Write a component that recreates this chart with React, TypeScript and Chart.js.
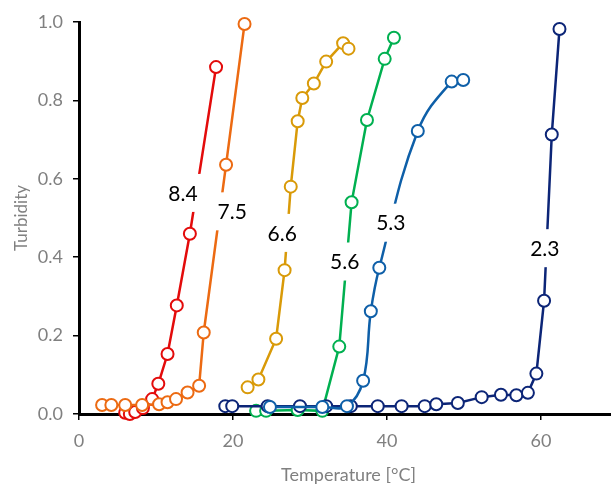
import React, { useEffect, useRef } from "react";
import { Chart, registerables } from "chart.js";

Chart.register(...registerables);

const tempRed = [6.0, 6.6, 7.3, 8.3, 9.5, 10.3, 11.5, 12.7, 14.4, 17.8];
const turbRed = [0.003, 0.0, 0.005, 0.015, 0.038, 0.077, 0.153, 0.277, 0.46, 0.885];

const tempOrange = [3.0, 4.2, 6.0, 8.2, 10.4, 11.5, 12.6, 14.1, 15.6, 16.2, 19.1, 21.5];
const turbOrange = [0.023, 0.023, 0.023, 0.023, 0.025, 0.03, 0.038, 0.055, 0.072, 0.208, 0.636, 0.995];

const tempGold = [21.9, 23.3, 25.6, 26.7, 27.5, 28.4, 29.0, 30.5, 32.1, 34.3, 35.0];
const turbGold = [0.068, 0.088, 0.192, 0.367, 0.58, 0.747, 0.806, 0.843, 0.899, 0.946, 0.932];

const tempGreen = [23.0, 24.3, 28.4, 31.6, 33.8, 35.4, 37.4, 39.7, 40.9];
const turbGreen = [0.008, 0.008, 0.01, 0.008, 0.172, 0.54, 0.75, 0.906, 0.96];

const tempBlue = [24.8, 31.6, 34.8, 36.9, 37.9, 39.0, 44.0, 48.4, 49.9];
const turbBlue = [0.018, 0.018, 0.02, 0.085, 0.262, 0.373, 0.722, 0.848, 0.852];

const tempNavy = [19.0, 19.9, 24.5, 28.7, 32.1, 35.3, 38.8, 41.9, 44.9, 46.4, 49.2, 52.3, 54.8, 56.8, 58.3, 59.4, 60.4, 61.4, 62.4];
const turbNavy = [0.02, 0.02, 0.02, 0.02, 0.02, 0.02, 0.02, 0.02, 0.02, 0.025, 0.028, 0.043, 0.049, 0.048, 0.054, 0.103, 0.289, 0.713, 0.982];

const labelTexts = ["8.4", "7.5", "6.6", "5.6", "5.3", "2.3"];
const labelTemps = [13.5, 19.9, 26.4, 34.5, 40.5, 60.5];
const labelTurbs = [0.564, 0.517, 0.462, 0.389, 0.488, 0.423];

const xTicks = [0, 20, 40, 60];

const toPts = (xs: number[], ys: number[]) => xs.map((x, i) => ({ x, y: ys[i] }));

const labelPlugin = {
  id: "phLabels",
  afterDatasetsDraw(chart: any) {
    const { ctx, scales } = chart;
    ctx.save();
    ctx.font = "21px Lato";
    ctx.textAlign = "center";
    ctx.textBaseline = "middle";
    labelTexts.forEach((t, i) => {
      const px = scales.x.getPixelForValue(labelTemps[i]);
      const py = scales.y.getPixelForValue(labelTurbs[i]);
      const w = ctx.measureText(t).width + 12;
      const h = 38;
      ctx.fillStyle = "#ffffff";
      ctx.fillRect(px - w / 2, py - h / 2, w, h);
      ctx.fillStyle = "#000000";
      ctx.fillText(t, px, py + 1);
    });
    ctx.restore();
  },
};

export default function App() {
  const ref = useRef<HTMLCanvasElement | null>(null);
  useEffect(() => {
    document.body.style.margin = "0";
    if (!ref.current) return;
    const mk = (data: any, color: string, order: number, tension = 0) => ({
      data,
      borderColor: color,
      backgroundColor: "#ffffff",
      pointBackgroundColor: "#ffffff",
      pointBorderColor: color,
      pointRadius: 6,
      pointBorderWidth: 2,
      borderWidth: 2.5,
      showLine: true,
      tension,
      order,
      clip: false,
    });
    const chart = new Chart(ref.current, {
      type: "scatter",
      data: {
        datasets: [
          mk(toPts(tempRed, turbRed), "#e30b0b", 6),
          mk(toPts(tempOrange, turbOrange), "#ec6a12", 5),
          mk(toPts(tempGold, turbGold), "#d99a08", 4),
          mk(toPts(tempGreen, turbGreen), "#00b050", 3),
          mk(toPts(tempNavy, turbNavy), "#0c2577", 2),
          mk(toPts(tempBlue, turbBlue), "#0e5fa8", 1, 0.4),
        ] as any,
      },
      options: {
        responsive: true,
        maintainAspectRatio: false,
        animation: false,
        layout: { padding: { top: 22, right: 0, left: 0, bottom: 0 } },
        plugins: { legend: { display: false }, tooltip: { enabled: false } },
        scales: {
          x: {
            type: "linear",
            min: 0,
            max: 70,
            afterBuildTicks: (axis: any) => {
              axis.ticks = xTicks.map((v) => ({ value: v }));
            },
            afterFit: (axis: any) => {
              axis.height = 70;
            },
            grid: { display: true, drawOnChartArea: false, drawTicks: true, tickLength: 6, color: "#000000", lineWidth: 1.5 },
            border: { display: true, color: "#000000", width: 3 },
            ticks: { color: "#808080", font: { family: "Lato", size: 18 }, padding: 10, maxRotation: 0 },
            title: {
              display: true,
              text: "Temperature [°C]",
              color: "#808080",
              font: { family: "Lato", size: 18 },
              padding: { top: 0, bottom: -2 },
            },
          },
          y: {
            type: "linear",
            min: 0,
            max: 1,
            ticks: {
              stepSize: 0.2,
              color: "#808080",
              font: { family: "Lato", size: 18 },
              padding: 10,
              callback: (v: any) => Number(v).toFixed(1),
            },
            afterFit: (axis: any) => {
              axis.width = 79;
            },
            grid: { display: true, drawOnChartArea: false, drawTicks: true, tickLength: 6, color: "#000000", lineWidth: 1.5 },
            border: { display: true, color: "#000000", width: 3 },
            title: {
              display: true,
              text: "Turbidity",
              color: "#808080",
              font: { family: "Lato", size: 17 },
              padding: { top: 11, bottom: 0 },
            },
          },
        },
      } as any,
      plugins: [labelPlugin],
    });
    return () => chart.destroy();
  }, []);
  return (
    <div style={{ width: 611, height: 484, overflow: "hidden", position: "relative" }}>
      <div style={{ width: 626, height: 484, position: "relative" }}>
        <canvas ref={ref} />
      </div>
    </div>
  );
}
